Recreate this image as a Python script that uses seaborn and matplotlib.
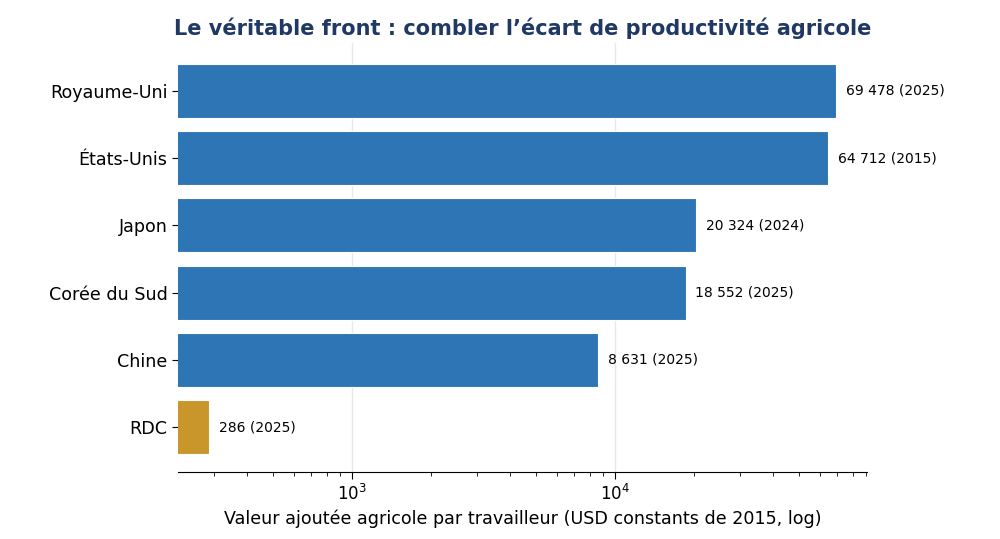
import pandas as pd
import numpy as np
import matplotlib
matplotlib.use('Agg')
import matplotlib.pyplot as plt
import seaborn as sns

# Data
countries = ['Royaume-Uni', 'États-Unis', 'Japon', 'Corée du Sud', 'Chine', 'RDC']
values = [69478, 64712, 20324, 18552, 8631, 286]
years = [2025, 2015, 2024, 2025, 2025, 2025]
colors = ['#2e75b6', '#2e75b6', '#2e75b6', '#2e75b6', '#2e75b6', '#c9962b']

df = pd.DataFrame({'pays': countries, 'valeur': values, 'annee': years})

sns.set_style('white')
plt.rcParams['font.family'] = ['DejaVu Sans']

fig = plt.figure(figsize=(10, 5.39), dpi=100)
ax = fig.add_axes([0.178, 0.124, 0.689, 0.796])

sns.barplot(data=df, y='pays', x='valeur', hue='pays', palette=colors,
            saturation=1, orient='h', width=0.8, edgecolor='white',
            linewidth=0.8, legend=False, ax=ax, zorder=2)
ax.set_xscale('log')
ax.set_xlim(218, 90800)
ax.set_ylim(5.67, -0.71)

ax.grid(axis='x', which='major', color='#e8e8e8', linewidth=1)
ax.set_axisbelow(True)

for i, (v, y) in enumerate(zip(values, years)):
    txt = f"{v:,}".replace(',', ' ') + f" ({y})"
    ax.text(v * 1.09, i, txt, va='center', ha='left', fontsize=10, color='black')

for s in ['top', 'right', 'left']:
    ax.spines[s].set_visible(False)
ax.spines['bottom'].set_color('black')
ax.tick_params(axis='y', length=4, labelsize=12.6, left=True, color='black', labelcolor='black')
ax.tick_params(axis='x', which='major', length=5, labelsize=12, bottom=True, color='black', labelcolor='black')
ax.tick_params(axis='x', which='minor', length=3, bottom=True, color='black')
ax.set_ylabel('')
ax.set_xlabel('Valeur ajoutée agricole par travailleur (USD constants de 2015, log)',
              fontsize=12.6, color='black')
ax.set_title('Le véritable front : combler l’écart de productivité agricole',
             fontsize=15, fontweight='bold', color='#1f3864', pad=6)

fig.savefig('out.png', dpi=100)
